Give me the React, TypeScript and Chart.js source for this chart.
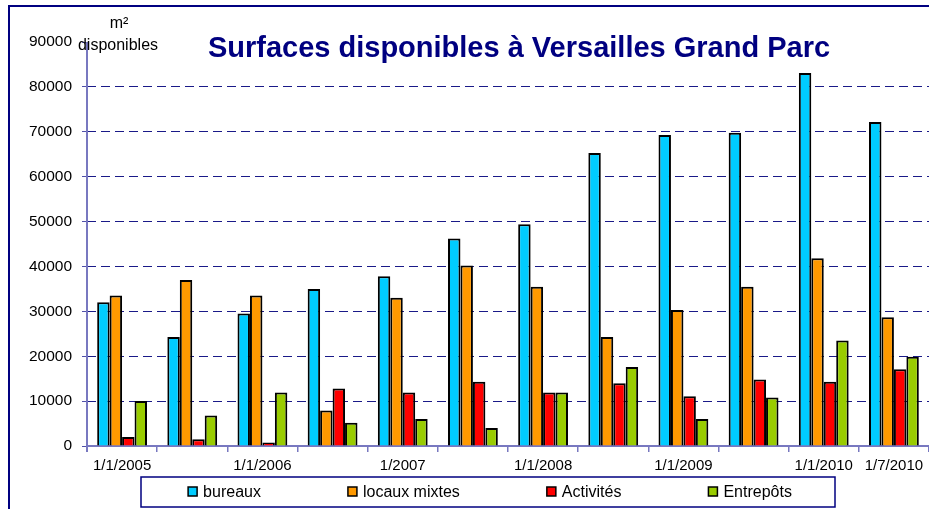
import React, { useEffect, useRef } from "react";
import { Chart, registerables } from "chart.js";

Chart.register(...registerables);

const categories = ["1/1/2005", "1/7/2005", "1/1/2006", "1/7/2006", "1/1/2007", "1/7/2007", "1/1/2008", "1/7/2008", "1/1/2009", "1/7/2009", "1/1/2010", "1/7/2010"];
const tickLabels = ["1/1/2005", "", "1/1/2006", "", "1/2007", "", "1/1/2008", "", "1/1/2009", "", "1/1/2010", "1/7/2010"];
const bureaux = [32000, 24300, 29500, 35000, 37800, 46200, 49400, 65300, 69300, 69800, 83100, 72200];
const locauxMixtes = [33500, 37000, 33500, 7900, 33000, 40200, 35500, 24300, 30300, 35500, 41800, 28700];
const activites = [2000, 1500, 800, 12800, 11900, 14300, 11900, 14000, 11100, 14800, 14300, 17100];
const entrepots = [10000, 6800, 11900, 5200, 6000, 4000, 11900, 17600, 6000, 10800, 23500, 19900];
const seriesNames = ["bureaux", "locaux mixtes", "Activités", "Entrepôts"];
const seriesColors = ["#00CCFF", "#FF9900", "#FF0000", "#99CC00"];
const titleText = "Surfaces disponibles à Versailles Grand Parc";
const yTitle = ["m²", "disponibles"];
const yMax = 90000;

const FONT = "'Liberation Sans', Arial, sans-serif";
const NAVY = "#000080";
const AXIS = "#7878c0";

const decorPlugin = {
  id: "decor",
  afterDraw(chart: any) {
    const ctx = chart.ctx as CanvasRenderingContext2D;
    const area = chart.chartArea;
    ctx.save();
    ctx.setLineDash([]);
    ctx.strokeStyle = AXIS;
    ctx.lineWidth = 2;
    ctx.beginPath();
    ctx.moveTo(area.left, area.top);
    ctx.lineTo(area.left, area.bottom + 6);
    ctx.stroke();
    ctx.strokeStyle = NAVY;
    ctx.lineWidth = 2;
    ctx.beginPath();
    ctx.moveTo(9, 520);
    ctx.lineTo(9, 6);
    ctx.lineTo(940, 6);
    ctx.stroke();
    ctx.fillStyle = NAVY;
    ctx.font = `bold 29px ${FONT}`;
    ctx.textAlign = "center";
    ctx.textBaseline = "alphabetic";
    ctx.fillText(titleText, 519, 57);
    ctx.fillStyle = "#000";
    ctx.font = `16px ${FONT}`;
    ctx.fillText(yTitle[0], 119, 28);
    ctx.fillText(yTitle[1], 118, 50);
    const bx = 141, by = 477, bw = 694, bh = 30;
    ctx.fillStyle = "#fff";
    ctx.fillRect(bx, by, bw, bh);
    ctx.strokeStyle = NAVY;
    ctx.lineWidth = 1.5;
    ctx.strokeRect(bx, by, bw, bh);
    ctx.font = `16px ${FONT}`;
    ctx.textAlign = "left";
    const sq = 9, gapSq = 6, gapItem = 87;
    const ds = chart.data.datasets;
    const widths = ds.map((d: any) => ctx.measureText(d.label).width);
    const total = widths.reduce((a: number, w: number) => a + sq + gapSq + w, 0) + gapItem * (ds.length - 1);
    let x = bx + (bw - total) / 2 + 2;
    const cy = by + bh / 2;
    ds.forEach((d: any, i: number) => {
      ctx.fillStyle = d.backgroundColor;
      ctx.fillRect(x, cy - 5, sq, sq);
      ctx.strokeStyle = "#000";
      ctx.lineWidth = 1.5;
      ctx.strokeRect(x, cy - 5, sq, sq);
      ctx.fillStyle = "#000";
      ctx.textBaseline = "middle";
      ctx.fillText(d.label, x + sq + gapSq, cy + 1);
      x += sq + gapSq + widths[i] + gapItem;
    });
    ctx.restore();
  },
};

export default function App() {
  const ref = useRef<HTMLCanvasElement>(null);
  useEffect(() => {
    if (!ref.current) return;
    const seriesData = [bureaux, locauxMixtes, activites, entrepots];
    const chart = new Chart(ref.current, {
      type: "bar",
      data: {
        labels: categories,
        datasets: seriesData.map((d, i) => ({
          label: seriesNames[i],
          data: d,
          backgroundColor: seriesColors[i],
          borderColor: "#000",
          borderWidth: 2,
          borderSkipped: "bottom",
          categoryPercentage: 0.71,
          barPercentage: 1,
        })),
      },
      options: {
        responsive: false,
        animation: false,
        layout: { padding: { top: 42, left: 0, right: 0, bottom: 0 } },
        plugins: { legend: { display: false }, title: { display: false }, tooltip: { enabled: false } },
        scales: {
          x: {
            grid: { display: true, drawOnChartArea: false, drawTicks: true, tickLength: 6, color: AXIS, lineWidth: 1.5, offset: true },
            border: { display: true, color: AXIS, width: 2 },
            ticks: {
              autoSkip: false,
              maxRotation: 0,
              minRotation: 0,
              padding: 5,
              color: "#000",
              font: { family: FONT, size: 15 },
              callback: (_v: any, i: number) => tickLabels[i],
            },
            afterFit: (s: any) => { s.height = 63; },
          },
          y: {
            min: 0,
            max: yMax,
            ticks: {
              stepSize: 10000,
              padding: 10,
              color: "#000",
              font: { family: FONT, size: 15.5 },
              callback: (v: any) => String(v),
            },
            grid: {
              color: (c: any) => (c.tick && c.tick.value === yMax ? "rgba(0,0,0,0)" : "#1a1a88"),
              lineWidth: 1,
              tickLength: 5,
              tickColor: "#5050a8",
              tickBorderDash: [],
            } as any,
            border: { display: false, dash: [9, 5] } as any,
            afterFit: (s: any) => { s.width = 87; },
          },
        },
      },
      plugins: [decorPlugin],
    });
    return () => chart.destroy();
  }, []);
  return (
    <div style={{ position: "fixed", left: 0, top: 0, width: 929, height: 509, background: "#fff" }}>
      <canvas ref={ref} width={929} height={509} style={{ width: 929, height: 509, display: "block" }} />
    </div>
  );
}
